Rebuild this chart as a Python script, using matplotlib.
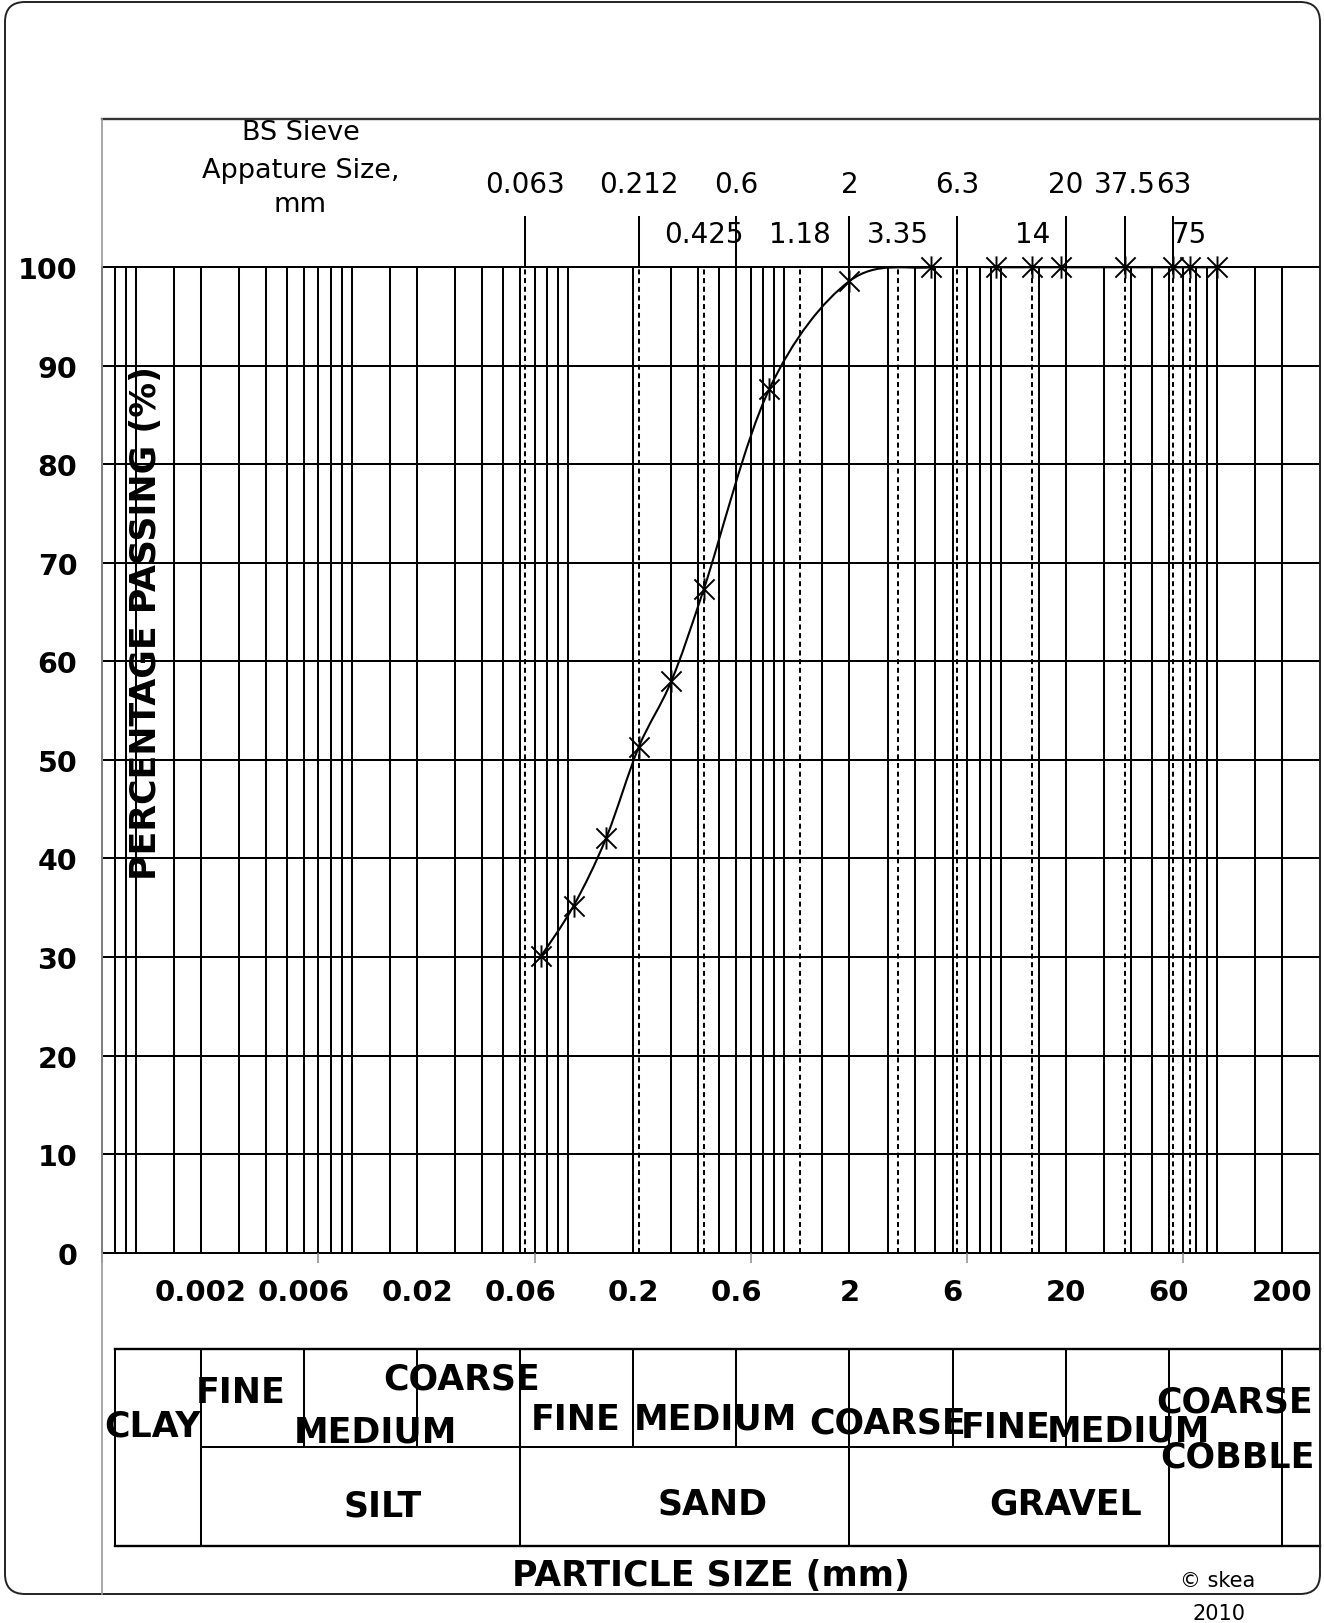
import numpy as np
import matplotlib
matplotlib.use('Agg')
import matplotlib.pyplot as plt
from matplotlib.path import Path
from matplotlib.patches import PathPatch, FancyBboxPatch
from matplotlib.lines import Line2D

plt.rcParams['font.family'] = ['DejaVu Sans']

# sieve results (particle size mm, % passing)
size_mm = [0.075, 0.106, 0.15, 0.212, 0.3, 0.425, 0.85, 2.0, 4.75, 9.5, 14, 19, 37.5, 63, 75, 100]
passing = [30.1, 35.2, 42.1, 51.3, 58.0, 67.4, 87.6, 98.6, 100, 100, 100, 100, 100, 100, 100, 100]

# BS sieve apertures written along the top, two staggered rows
sieves_row1 = [0.063, 0.212, 0.6, 2, 6.3, 20, 37.5, 63]
sieves_row1_lbl = ['0.063', '0.212', '0.6', '2', '6.3', '20', '37.5', '63']
sieves_row2 = [0.425, 1.18, 3.35, 14, 75]
sieves_row2_lbl = ['0.425', '1.18', '3.35', '14', '75']

# size labels under the chart
size_ticks = [0.002, 0.006, 0.02, 0.06, 0.2, 0.6, 2, 6, 20, 60, 200]
size_tick_lbl = ['0.002', '0.006', '0.02', '0.06', '0.2', '0.6', '2', '6', '20', '60', '200']
pct_ticks = list(range(0, 101, 10))

# classification table boundaries (mm)
main_edges = [0.0008, 0.002, 0.06, 2, 60, 200, 300]
sub_edges = [0.006, 0.02, 0.2, 0.6, 6, 20]
main_names = ['CLAY', 'SILT', 'SAND', 'GRAVEL', 'COBBLE']
sub_names = ['FINE', 'MEDIUM', 'COARSE', 'FINE', 'MEDIUM', 'COARSE', 'FINE', 'MEDIUM', 'COARSE']

W, H = 1324, 1624
LW = 1.45
fig = plt.figure(figsize=(W / 100, H / 100), dpi=100)


def fx(px):
    return px / W


def fy(py):
    return 1 - py / H


AX_L, AX_R, AX_T, AX_B = 102.3, 1319.9, 268.3, 1253.6
ax = fig.add_axes([fx(AX_L), fy(AX_B), (AX_R - AX_L) / W, (AX_B - AX_T) / H])
ax.set_xscale('log')
ax.set_xlim(0.0007, 300)
ax.set_ylim(0, 100)
for s in ax.spines.values():
    s.set_visible(False)


def ya(py):
    # pixel row -> axes fraction (for things above / below the plot)
    return (AX_B - py) / (AX_B - AX_T)


xt = ax.get_xaxis_transform()

# log grid of the chart paper (no 0.15 line on this sheet)
grid_mm = [m * 10.0 ** e for e in range(-4, 3) for m in (1, 1.5, 2, 3, 4, 5, 6, 7, 8, 9)]
grid_mm = [g for g in grid_mm if 0.00069 < g < 201 and not np.isclose(g, 0.15)]
ax.vlines(grid_mm, 0, 100, colors='black', lw=LW, zorder=1, clip_on=False)
ax.hlines(pct_ticks, 0.0007, 300, colors='black', lw=LW, zorder=1, clip_on=False)

# dashed sieve lines
sieves = sieves_row1 + sieves_row2
ax.vlines(sieves, 0, 100, colors='black', lw=LW, linestyles=(0, (2.5, 1.8)), zorder=1.5)

# sieve labels on top
for x in sieves_row1:
    ax.plot([x, x], [1.0, ya(218)], transform=xt, clip_on=False, color='black', lw=LW)
for x, t in zip(sieves_row1, sieves_row1_lbl):
    ax.text(x, ya(193.3), t, transform=xt, ha='center', va='baseline', fontsize=20)
for x, t in zip(sieves_row2, sieves_row2_lbl):
    ax.text(x, ya(243), t, transform=xt, ha='center', va='baseline', fontsize=20)

# ticks
ax.set_xticks([0.0007 * 10 ** k for k in range(6)], labels=[''] * 6)
ax.tick_params(axis='x', which='major', direction='out', length=7.5, width=1.1,
               color='#8c8c8c', labelbottom=False)
ax.set_xticks(size_ticks, labels=size_tick_lbl, minor=True)
ax.tick_params(axis='x', which='minor', length=0, pad=18.3, labelsize=21)
for t in ax.get_xticklabels(minor=True):
    t.set_fontweight('bold')
ax.set_yticks(pct_ticks)
ax.tick_params(axis='y', length=0, pad=18, labelsize=20.5)
for t in ax.get_yticklabels():
    t.set_fontweight('bold')

# grading curve, smoothed like the spreadsheet (bezier through the points)
pts = ax.transData.transform(np.column_stack([size_mm, passing]))
verts = [pts[0]]
codes = [Path.MOVETO]
n = len(pts)
for i in range(n - 1):
    p0, p1 = pts[max(i - 1, 0)], pts[i]
    p2, p3 = pts[i + 1], pts[min(i + 2, n - 1)]
    verts += [p1 + (p2 - p0) / 6, p2 - (p3 - p1) / 6, p2]
    codes += [Path.CURVE4] * 3
verts = ax.transData.inverted().transform(np.array(verts))
ax.add_patch(PathPatch(Path(verts, codes), fill=False, ec='black', lw=1.5, zorder=3))

star = Path([(-1, -1), (1, 1), (-1, 1), (1, -1), (0, -1.1), (0, 1.1)],
            [Path.MOVETO, Path.LINETO] * 3)
ax.plot(size_mm, passing, ls='none', marker=star, ms=16, mew=1.4, mec='black',
        mfc='none', zorder=4, clip_on=False)

# classification table
top, mid, bot = ya(1350), ya(1448), ya(1547)
for y in (top, bot):
    ax.plot([main_edges[0], main_edges[-1]], [y, y], transform=xt, clip_on=False, color='black', lw=1.7)
ax.plot([main_edges[1], main_edges[4]], [mid, mid], transform=xt, clip_on=False, color='black', lw=LW)
for x in main_edges:
    ax.plot([x, x], [top, bot], transform=xt, clip_on=False, color='black', lw=LW)
for x in sub_edges:
    ax.plot([x, x], [top, mid], transform=xt, clip_on=False, color='black', lw=LW)

bold = dict(fontsize=25, fontweight='bold', ha='center', va='baseline')
sub_pos = [(241, 1403), (375.5, 1443), (461.5, 1390), (576, 1430), (715, 1430),
           (888, 1433), (1006, 1438), (1128, 1442), (1235, 1413)]
for name, (px, py) in zip(sub_names, sub_pos):
    fig.text(fx(px), fy(py), name, **bold)
main_pos = [(153, 1437), (383, 1517), (713, 1515), (1065.5, 1515), (1237, 1467)]
for name, (px, py) in zip(main_names, main_pos):
    fig.text(fx(px), fy(py), name, **bold)

fig.text(fx(711), fy(1586), 'PARTICLE SIZE (mm)', **bold)
fig.text(fx(146), fy(622.7), 'PERCENTAGE PASSING (%)', rotation=90, ha='center',
         va='center', fontsize=25, fontweight='bold')

fig.text(fx(300.5), fy(140), 'BS Sieve', ha='center', va='baseline', fontsize=19.5)
fig.text(fx(300.5), fy(178), 'Appature Size,', ha='center', va='baseline', fontsize=19.5)
fig.text(fx(300.5), fy(212), 'mm', ha='center', va='baseline', fontsize=19.5)

fig.text(fx(1218), fy(1587), '\u00a9 skea', ha='center', va='baseline', fontsize=15)
fig.text(fx(1219), fy(1620), '2010', ha='center', va='baseline', fontsize=15)

# sheet frame
frame = FancyBboxPatch((5 / 100, (H - 1595) / 100), 1315 / 100, 1592 / 100,
                       boxstyle='round,pad=0,rounding_size=0.2', fill=False,
                       ec='#222222', lw=1.4, transform=fig.dpi_scale_trans)
fig.add_artist(frame)
fig.add_artist(Line2D([fx(102.3), fx(1320)], [fy(120), fy(120)], transform=fig.transFigure,
                      color='#333333', lw=1.7))
fig.add_artist(Line2D([fx(102.3), fx(102.3)], [fy(120), fy(1595)], transform=fig.transFigure,
                      color='#9a9a9a', lw=1.2))

fig.savefig('out.png', dpi=100, facecolor='white')
